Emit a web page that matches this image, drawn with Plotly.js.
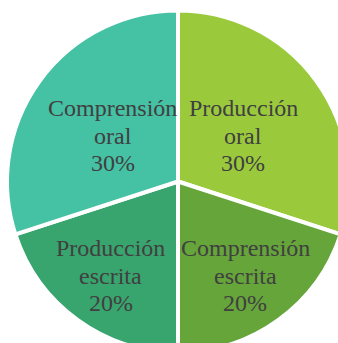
<!DOCTYPE html>
<html>
<head>
<meta charset="utf-8">
<script src="https://cdn.plot.ly/plotly-3.0.1.min.js"></script>
<style>
html,body{margin:0;padding:0;overflow:hidden;background:#fff;}
#chart{position:absolute;left:0;top:0;}
</style>
</head>
<body>
<div id="chart"></div>
<script>
// Data
const labelLines = [
  ["Producción", "oral"],
  ["Comprensión", "escrita"],
  ["Producción", "escrita"],
  ["Comprensión", "oral"]
];
const labels = ["Producción oral", "Comprensión escrita", "Producción escrita", "Comprensión oral"];
const values = [30, 20, 20, 30];
const colors = ["#9aca3c", "#65a53a", "#38a56e", "#45c1a4"];

// Layout geometry
const W = 356, H = 363;
const cx = 178, cy = 181.5, R = 171;
const fontSize = 24, lineGap = 27.5;
const FONT = "Liberation Serif";

const total = values.reduce((a, b) => a + b, 0);
const annotations = [];
let cum = 0;
values.forEach((v, i) => {
  const mid = (cum + v / 2) / total * 2 * Math.PI; // clockwise from top
  cum += v;
  const frac = v / total >= 0.25 ? 0.47 : 0.67;
  const px = cx + Math.sin(mid) * R * frac;
  const py = cy - Math.cos(mid) * R * frac + 1.5;
  const lines = labelLines[i].concat([Math.round(v / total * 100) + "%"]);
  lines.forEach((t, j) => {
    annotations.push({
      xref: "paper", yref: "paper",
      x: px / W, y: 1 - py / H,
      xanchor: "center", yanchor: "middle",
      yshift: (1 - j) * lineGap,
      text: t, showarrow: false,
      font: {family: FONT, size: fontSize, color: "#404040"}
    });
  });
});

const trace = {
  type: "pie",
  labels: labels,
  values: values,
  sort: false,
  direction: "clockwise",
  rotation: 0,
  textinfo: "none",
  hoverinfo: "label+percent",
  marker: {colors: colors, line: {color: "#ffffff", width: 4}},
  domain: {x: [(cx - R) / W, (cx + R) / W], y: [(H - cy - R) / H, (H - cy + R) / H]},
  showlegend: false
};

Plotly.newPlot("chart", [trace], {
  width: W, height: H,
  margin: {l: 0, r: 0, t: 0, b: 0},
  paper_bgcolor: "#ffffff",
  showlegend: false,
  font: {family: FONT},
  annotations: annotations
}, {displayModeBar: false, staticPlot: true});
</script>
</body>
</html>
